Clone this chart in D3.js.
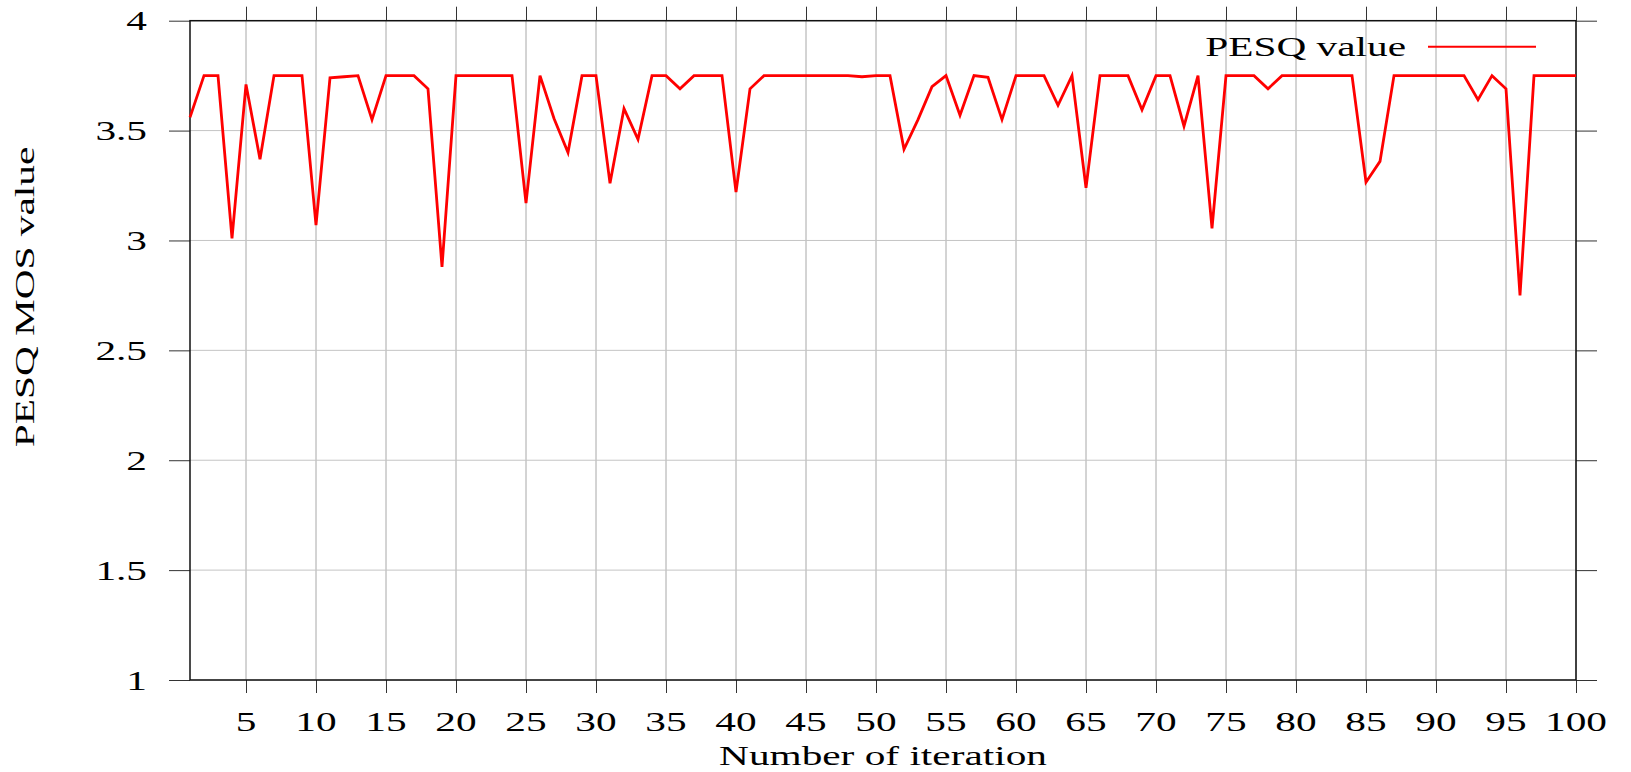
<!DOCTYPE html>
<html>
<head>
<meta charset="utf-8">
<script src="https://cdnjs.cloudflare.com/ajax/libs/d3/7.8.5/d3.min.js"></script>
<style>
  body { margin: 0; background: #fff; }
  svg { display: block; }
  .domain { display: none; }
</style>
</head>
<body>
<div id="chart"></div>
<script>

// DATA
var iterations = d3.range(1, 101);
var pesqValues = [
  3.56, 3.75, 3.75, 3.01, 3.71, 3.37, 3.75, 3.75, 3.75, 3.07,
  3.74, 3.745, 3.75, 3.55, 3.75, 3.75, 3.75, 3.69, 2.88, 3.75,
  3.75, 3.75, 3.75, 3.75, 3.17, 3.75, 3.555, 3.40, 3.75, 3.75,
  3.26, 3.60, 3.46, 3.75, 3.75, 3.69, 3.75, 3.75, 3.75, 3.22,
  3.69, 3.75, 3.75, 3.75, 3.75, 3.75, 3.75, 3.75, 3.745, 3.75,
  3.75, 3.415, 3.55, 3.70, 3.75, 3.57, 3.75, 3.742, 3.55, 3.75,
  3.75, 3.75, 3.615, 3.75, 3.24, 3.75, 3.75, 3.75, 3.595, 3.75,
  3.75, 3.52, 3.75, 3.055, 3.75, 3.75, 3.75, 3.69, 3.75, 3.75,
  3.75, 3.75, 3.75, 3.75, 3.265, 3.36, 3.75, 3.75, 3.75, 3.75,
  3.75, 3.75, 3.64, 3.75, 3.69, 2.75, 3.75, 3.75, 3.75, 3.75
];
var xTickValues = d3.range(5, 101, 5);
var yTickValues = [1, 1.5, 2, 2.5, 3, 3.5, 4];
var seriesName = "PESQ value";
var xTitle = "Number of iteration";
var yTitle = "PESQ MOS value";

// SET UP CHART
var svgWidth = 1631;
var svgHeight = 772;

var margin = { top: 20.7, right: 55, bottom: 92, left: 190 };
var chartWidth = 1576 - margin.left;
var chartHeight = 680 - margin.top;

// text in the picture is wide, so stretch it along its baseline
var fontFamily = "'Liberation Serif', 'DejaVu Serif', serif";
var fontSize = 27;
var stretch = 1.53;

var svg = d3.select("#chart")
  .append("svg")
  .attr("width", svgWidth)
  .attr("height", svgHeight);

var chartGroup = svg.append("g")
  .attr("transform", `translate(${margin.left}, ${margin.top})`);

// SCALES
var xScale = d3.scaleLinear()
  .domain([1, 100])
  .range([0, chartWidth]);

var yScale = d3.scaleLinear()
  .domain([1, 4])
  .range([chartHeight, 0]);

// GRID
chartGroup.append("g")
  .selectAll("line")
  .data(xTickValues)
  .enter()
  .append("line")
  .attr("x1", d => xScale(d))
  .attr("x2", d => xScale(d))
  .attr("y1", 0)
  .attr("y2", chartHeight)
  .attr("stroke", "#a8a8a8")
  .attr("stroke-width", 1);

chartGroup.append("g")
  .selectAll("line")
  .data(yTickValues)
  .enter()
  .append("line")
  .attr("x1", 0)
  .attr("x2", chartWidth)
  .attr("y1", d => yScale(d))
  .attr("y2", d => yScale(d))
  .attr("stroke", "#c4c4c4")
  .attr("stroke-width", 1);

// AXES - ticks point outward on all four sides, labels drawn by hand below
function tickStyle(g) {
  g.selectAll(".tick line").attr("stroke", "#333").attr("stroke-width", 1);
  g.selectAll(".tick text").remove();
}

chartGroup.append("g")
  .call(d3.axisLeft(yScale).tickValues(yTickValues).tickSize(21).tickSizeOuter(0))
  .call(tickStyle);

chartGroup.append("g")
  .attr("transform", `translate(${chartWidth}, 0)`)
  .call(d3.axisRight(yScale).tickValues(yTickValues).tickSize(21).tickSizeOuter(0))
  .call(tickStyle);

chartGroup.append("g")
  .attr("transform", `translate(0, ${chartHeight})`)
  .call(d3.axisBottom(xScale).tickValues(xTickValues).tickSize(13).tickSizeOuter(0))
  .call(tickStyle);

chartGroup.append("g")
  .call(d3.axisTop(xScale).tickValues(xTickValues).tickSize(14).tickSizeOuter(0))
  .call(tickStyle);

// FRAME
chartGroup.append("rect")
  .attr("x", 0)
  .attr("y", 0)
  .attr("width", chartWidth)
  .attr("height", chartHeight)
  .attr("fill", "none")
  .attr("stroke", "#111")
  .attr("stroke-width", 1.5);

// helper for stretched text
function addText(parent, x, y, str, anchor, rotate) {
  var rot = rotate ? " rotate(-90)" : "";
  return parent.append("text")
    .attr("transform", `translate(${x}, ${y})${rot} scale(${stretch}, 1)`)
    .attr("text-anchor", anchor)
    .attr("font-family", fontFamily)
    .attr("font-size", fontSize)
    .attr("fill", "#000")
    .text(str);
}

// TICK LABELS
yTickValues.forEach(function(v) {
  addText(chartGroup, -43, yScale(v) + 9.5, String(v), "end", false);
});

xTickValues.forEach(function(v) {
  addText(chartGroup, xScale(v), chartHeight + 51, String(v), "middle", false);
});

// AXIS TITLES
addText(svg, margin.left + chartWidth / 2, 765, xTitle, "middle", false);
addText(svg, 34, 297, yTitle, "middle", true);

// LINE
var line = d3.line()
  .x((d, i) => xScale(iterations[i]))
  .y(d => yScale(d));

chartGroup.append("path")
  .datum(pesqValues)
  .attr("d", line)
  .attr("fill", "none")
  .attr("stroke", "#ff0000")
  .attr("stroke-width", 2.8)
  .attr("stroke-linejoin", "miter");

// LEGEND
var legend = svg.append("g");
addText(legend, 1406, 56, seriesName, "end", false);
legend.append("line")
  .attr("x1", 1428)
  .attr("x2", 1536)
  .attr("y1", 46.7)
  .attr("y2", 46.7)
  .attr("stroke", "#ff0000")
  .attr("stroke-width", 2);

</script>
</body>
</html>
